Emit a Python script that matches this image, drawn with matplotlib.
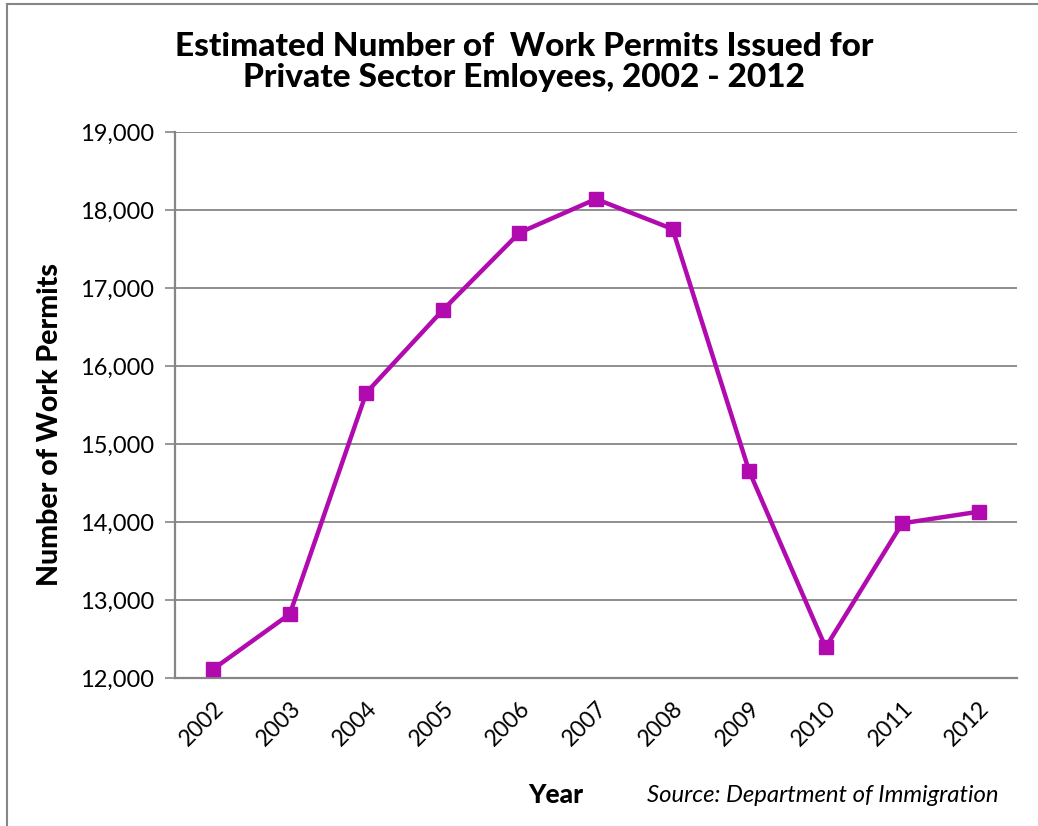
import matplotlib.pyplot as plt
from matplotlib.lines import Line2D

plt.rcParams['font.family'] = ['Lato', 'DejaVu Sans']

years = ['2002', '2003', '2004', '2005', '2006', '2007',
         '2008', '2009', '2010', '2011', '2012']
permits = [12115, 12820, 15658, 16718, 17709, 18141,
           17756, 14654, 12393, 13983, 14132]
y_ticks = [12000, 13000, 14000, 15000, 16000, 17000, 18000, 19000]

fig = plt.figure(figsize=(10.38, 8.26), dpi=100)
ax = fig.add_axes([175 / 1038, 148 / 826, 842 / 1038, 546 / 826])

x = range(len(years))
ax.plot(x, permits, color='#B10BAF', linewidth=3.2, marker='s',
        markersize=10, zorder=3)

ax.set_xlim(-0.5, len(years) - 0.5)
ax.set_ylim(12000, 19000)
ax.set_yticks(y_ticks)
ax.set_yticklabels([f'{v:,}' for v in y_ticks], fontsize=17)
ax.set_xticks(list(x))
ax.set_xticklabels(years, fontsize=16.5, rotation=45, ha='right',
                   va='top', rotation_mode='anchor')
ax.tick_params(axis='x', length=0, pad=14)
ax.tick_params(axis='y', length=7, width=1.2, color='#868686', pad=8)

ax.grid(axis='y', color='#868686', linewidth=1.3)
ax.set_axisbelow(True)
for s in ['top', 'right']:
    ax.spines[s].set_visible(False)
for s in ['left', 'bottom']:
    ax.spines[s].set_color('#868686')
    ax.spines[s].set_linewidth(1.6)

ax.set_ylabel('Number of Work Permits', fontsize=20.5, fontweight='black')
ax.yaxis.set_label_coords(-0.133, 0.465)

fig.text(0.505, 1 - 62 / 826, 'Estimated Number of  Work Permits Issued for\n'
         'Private Sector Emloyees, 2002 - 2012', ha='center', va='center',
         fontsize=24, fontweight='black', linespacing=1.1)
fig.text(556 / 1038, 1 - 795 / 826, 'Year', ha='center', va='center',
         fontsize=19, fontweight='black')
fig.text(647 / 1038, 1 - 795 / 826, 'Source: Department of Immigration',
         ha='left', va='center', fontsize=17.2, style='italic')

# chart area border
fig.add_artist(Line2D([7 / 1038, 7 / 1038], [0, 1 - 4 / 826],
                      color='#868686', linewidth=1.5))
fig.add_artist(Line2D([7 / 1038, 1], [1 - 4 / 826, 1 - 4 / 826],
                      color='#868686', linewidth=1.5))

fig.savefig('out.png', dpi=100)
